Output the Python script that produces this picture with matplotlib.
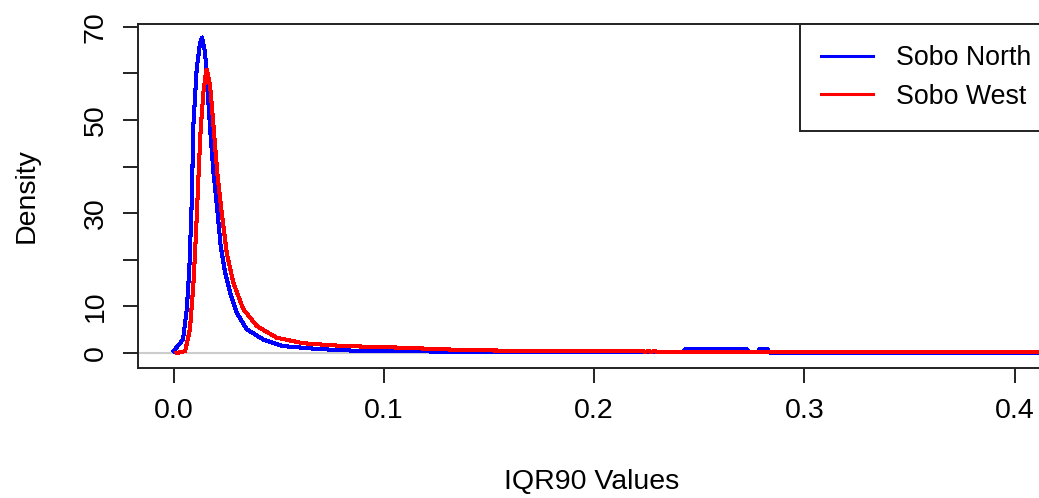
import matplotlib
matplotlib.use('Agg')
import matplotlib.pyplot as plt

plt.rcParams['font.family'] = ['Liberation Sans', 'DejaVu Sans']
plt.rcParams['font.size'] = 20.5

# Density curves (IQR90 value, density)
north_x = [0.0, 0.0045, 0.0063, 0.0075, 0.0087, 0.0094, 0.011, 0.0126, 0.0136, 0.015,
           0.0161, 0.0174, 0.019, 0.0208, 0.0224, 0.0245, 0.0269, 0.030, 0.0348, 0.0427,
           0.052, 0.068, 0.080, 0.095, 0.138, 0.20, 0.2425, 0.2435, 0.2725, 0.2735,
           0.278, 0.2785, 0.2825, 0.2835, 0.30, 0.42]
north_y = [0.4, 2.9, 9.4, 18.0, 33.0, 48.7, 60.9, 66.6, 67.7, 64.5,
           57.3, 48.0, 38.7, 30.8, 23.0, 17.3, 13.0, 8.7, 5.1, 2.9,
           1.5, 0.9, 0.6, 0.4, 0.3, 0.3, 0.3, 0.8, 0.8, 0.3,
           0.3, 0.8, 0.8, 0.1, 0.05, 0.05]

west_x = [0.0015, 0.0055, 0.0078, 0.0094, 0.0107, 0.0118, 0.0129, 0.0142, 0.0155, 0.0158,
          0.0174, 0.019, 0.0208, 0.0229, 0.0253, 0.0284, 0.0332, 0.0396, 0.049, 0.0617,
          0.068, 0.0815, 0.105, 0.138, 0.16, 0.223, 0.224, 0.226, 0.227, 0.229,
          0.23, 0.25, 0.30, 0.42]
west_y = [0.0, 0.4, 5.1, 14.4, 25.8, 37.3, 48.0, 55.9, 60.5, 60.8,
          57.3, 48.7, 38.7, 30.1, 21.5, 15.1, 9.4, 5.8, 3.3, 2.1,
          1.9, 1.5, 1.2, 0.65, 0.5, 0.45, 0.25, 0.45, 0.25, 0.45,
          0.25, 0.25, 0.2, 0.2]

series_names = ['Sobo North', 'Sobo West']
series_colors = ['blue', 'red']

x_ticks = [0.0, 0.1, 0.2, 0.3, 0.4]
y_ticks = [0, 10, 20, 30, 40, 50, 60, 70]
y_tick_labels = ['0', '10', '', '30', '', '50', '', '70']

fig = plt.figure(figsize=(10.39, 4.98), dpi=100)
W, H = 1039, 498
# plot region in pixels: left 138, right 1046 (cut off), top 24, bottom 367
ax = fig.add_axes([138 / W, 1 - 367.5 / H, (1046 - 138) / W, (367.5 - 24) / H])

ax.axhline(0, color='#cccccc', lw=1.5, zorder=1)
ax.plot(north_x, north_y, color=series_colors[0], lw=2.2, label=series_names[0],
        antialiased=False, zorder=2)
ax.plot(west_x, west_y, color=series_colors[1], lw=2.2, label=series_names[1],
        antialiased=False, zorder=3)

ax.set_xlim(-0.0169, 0.4149)
ax.set_ylim(-3.1, 70.6)

ax.set_xticks(x_ticks)
ax.set_xticklabels(['%.1f' % v for v in x_ticks])
ax.set_yticks(y_ticks)
ax.set_yticklabels(y_tick_labels, rotation=90, va='center')

for s in ax.spines.values():
    s.set_color('#222222')
    s.set_linewidth(1.4)
ax.tick_params(direction='out', length=11, width=1.4, color='#222222')
ax.tick_params(axis='x', pad=11)
ax.tick_params(axis='y', pad=10)

ax.set_xlabel('IQR90 Values', labelpad=32)
ax.set_ylabel('Density', labelpad=31)

leg = ax.legend(loc='upper left', bbox_to_anchor=(800 / W, 1 - 24 / H),
                bbox_transform=fig.transFigure, borderaxespad=0,
                fancybox=False, framealpha=1, edgecolor='#222222',
                fontsize=19.3, handlelength=1.92, handletextpad=0.85,
                borderpad=0.8, labelspacing=0.45)
leg.get_frame().set_linewidth(1.4)

fig.savefig('out.png', dpi=100)
